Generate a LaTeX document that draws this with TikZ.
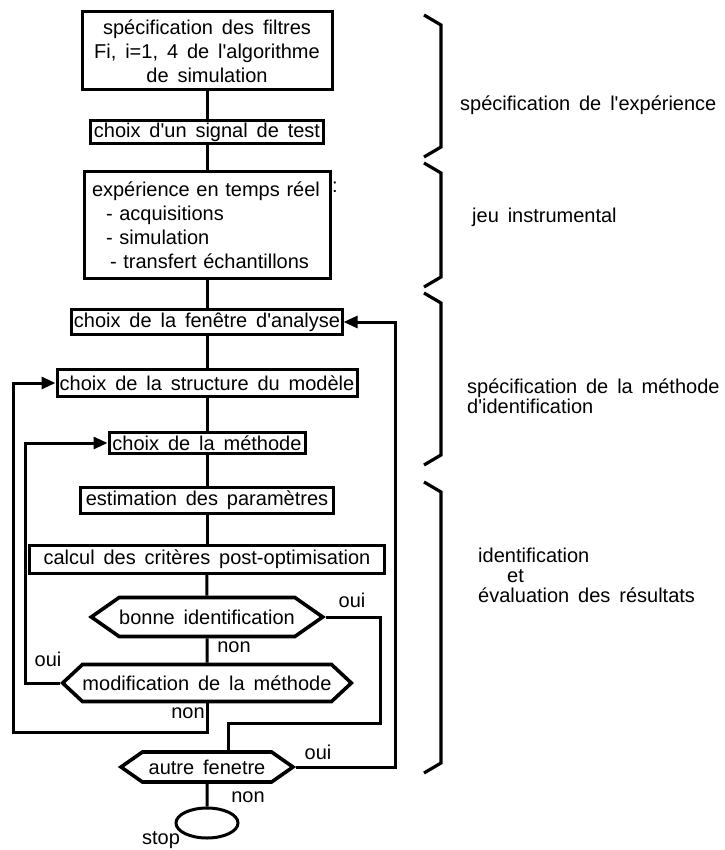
\documentclass[tikz,border=0pt]{standalone}
\usepackage{fontspec}
\setmainfont{Liberation Sans}[WordSpace=1.6,Ligatures=TeXOff]
\usetikzlibrary{arrows.meta,shapes.geometric,shapes.symbols}

\begin{document}
\begin{tikzpicture}[x=1pt, y=-1pt, font=\fontsize{20}{24}\selectfont, >={Triangle[length=14pt,width=12pt]},
  box/.style={draw, line width=3pt, inner sep=2pt, align=center},
  hexa/.style={draw, line width=3.6pt, signal, signal to=west and east, signal pointer angle=70, inner xsep=0pt, inner ysep=2pt},
  flow/.style={line width=3pt},
  lbl/.style={inner sep=0pt},
  grp/.style={inner sep=0pt, anchor=west, align=left, font=\fontsize{20}{20}\selectfont}]
\useasboundingbox (0,0) rectangle (724,850);
\def\sx{207}
% main column
\node[box, minimum width=250pt, minimum height=78pt] (spec) at (\sx,51) {spécification des filtres\\Fi, i=1, 4 de l'algorithme\\de simulation};
\node[box, minimum width=233pt, minimum height=21pt] (signal) at (\sx,132) {choix d'un signal de test};
\node[box, align=left, text width=230pt, inner xsep=8pt, minimum height=106pt] (exp) at (\sx,225) {expérience en temps réel\\\hspace*{14pt}- acquisitions\\\hspace*{14pt}- simulation\\\hspace*{18pt}- transfert échantillons};
\node[lbl] (colon) at (335,187) {:};
\node[box, minimum width=268pt, minimum height=25pt] (fen) at (\sx,322) {choix de la fenêtre d'analyse};
\node[box, minimum width=300pt, minimum height=27pt] (struct) at (\sx,383) {choix de la structure du modèle};
\node[box, minimum width=196pt, minimum height=21pt] (meth) at (\sx,443) {choix de la méthode};
\node[box, minimum width=253pt, minimum height=26pt] (estim) at (\sx,500) {estimation des paramètres};
\node[box, minimum width=355pt, minimum height=28pt] (calc) at (\sx,559) {calcul des critères post-optimisation};
\node[hexa, minimum width=225pt, minimum height=39pt] (bonne) at (\sx,617) {bonne identification};
\node[hexa, signal pointer angle=86, minimum width=288pt, minimum height=37pt] (modif) at (\sx,683) {modification de la méthode};
\node[hexa, minimum width=172pt, minimum height=30pt] (autre) at (\sx,767) {autre fenetre};
\node[draw, ellipse, line width=3pt, minimum width=62pt, minimum height=30pt] (stop) at (\sx,823) {};

\foreach \a/\b in {spec/signal, signal/exp, exp/fen, fen/struct, struct/meth, meth/estim, estim/calc, calc/bonne, bonne/modif, autre/stop}
  \draw[flow] (\a) -- (\b);

% loops
\coordinate (rside) at (395,0);
\coordinate (lout) at (13,0);
\coordinate (lin) at (25,0);
\coordinate (ycorner) at (380,723);
\coordinate (ydrop) at (228,723);
\coordinate (nbot) at (\sx,732);
\draw[flow,->] (autre.east) -| (rside |- fen.east) -- (fen.east);
\draw[flow] (bonne.east) -| (ycorner) -- (ydrop) -- (ydrop |- autre.north);
\draw[flow,->] (modif.west) -| (lin |- meth.west) -- (meth.west);
\draw[flow,->] (modif.south) -- (nbot) -| (lout |- struct.west) -- (struct.west);

\node[lbl] (oui1) at (352,600) {oui};
\node[lbl] (non1) at (234,647) {non};
\node[lbl] (oui2) at (48,659) {oui};
\node[lbl] (non2) at (188,713) {non};
\node[lbl] (oui3) at (318,752) {oui};
\node[lbl] (non3) at (248,797) {non};
\node[lbl] (stoplbl) at (161,840) {stop};

% phases
\foreach \yt/\yb in {15/157, 163/287, 293/465, 482/773}
  \draw[line width=3.2pt] (424,\yt) -- (441,\yt+10) -- (441,\yb-10) -- (424,\yb);
\node[grp] (gexp) at (460,105) {spécification de l'expérience};
\node[grp] (gjeu) at (472,217) {jeu instrumental};
\node[grp] (gmeth) at (467,396) {spécification de la méthode\\d'identification};
\node[grp] (gid) at (478,575) {identification\\\hspace*{29pt}et\\évaluation des résultats};
\end{tikzpicture}
\end{document}
